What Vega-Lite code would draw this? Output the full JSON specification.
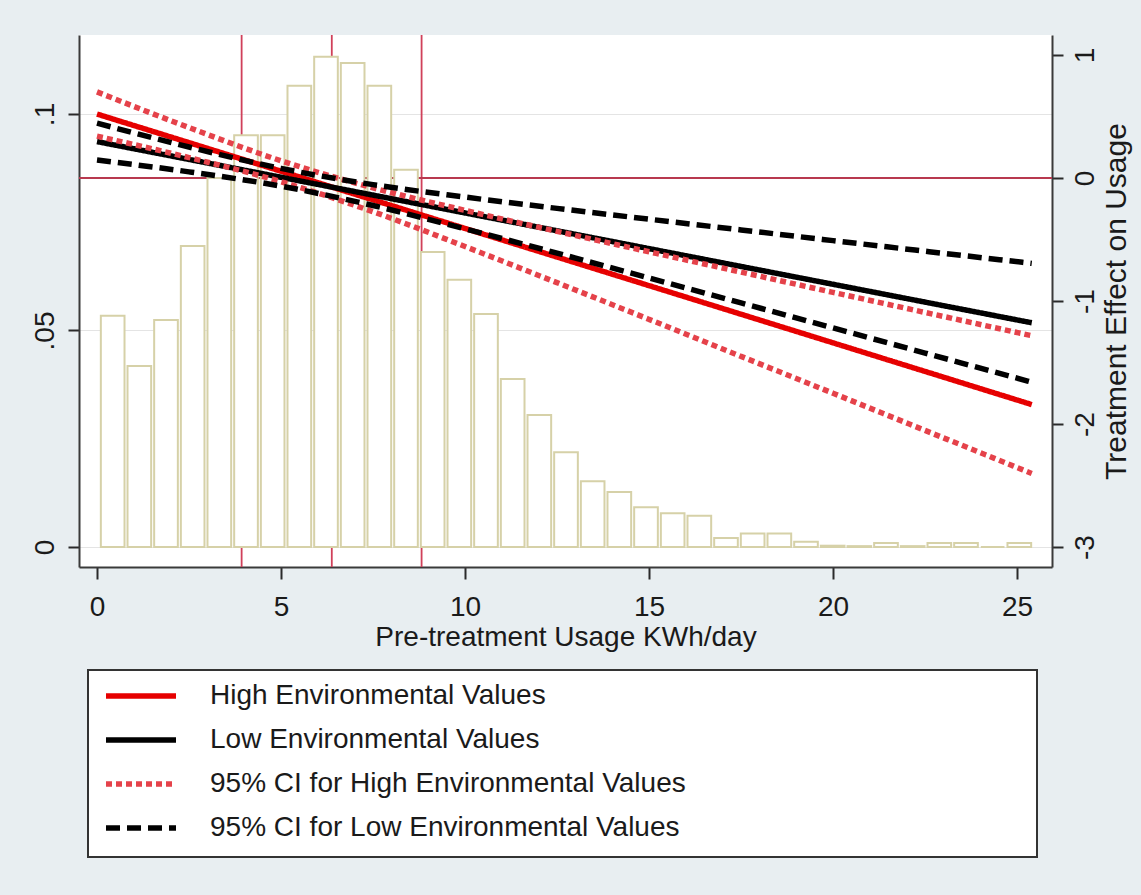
{
  "$schema": "https://vega.github.io/schema/vega-lite/v6.json",
  "autosize": {"type": "none"},
  "width": 973,
  "height": 532,
  "padding": {"left": 79, "top": 35, "right": 89, "bottom": 328},
  "background": "#e8eef1",
  "config": {
    "view": {"fill": "white", "stroke": null},
    "font": "Liberation Sans",
    "axis": {
      "labelFont": "Liberation Sans",
      "titleFont": "Liberation Sans",
      "labelColor": "#1a1a1a",
      "titleColor": "#1a1a1a",
      "domainColor": "#3a3a3a",
      "domainWidth": 2,
      "tickColor": "#2a2a2a",
      "tickWidth": 2,
      "titleFontWeight": "normal",
      "labelFontSize": 28,
      "titleFontSize": 28
    },
    "legend": {
      "orient": "none",
      "legendX": 9,
      "legendY": 635,
      "symbolType": "stroke",
      "symbolSize": 4900,
      "clipHeight": 22,
      "rowPadding": 16,
      "padding": 15,
      "strokeColor": "#333333",
      "strokeWidth": 2,
      "fillColor": "white",
      "labelFont": "Liberation Sans",
      "labelFontSize": 28,
      "labelColor": "#1a1a1a",
      "labelOffset": 31,
      "labelLimit": 3000
    }
  },
  "datasets": {
    "vlines": [{"x": 3.93}, {"x": 6.38}, {"x": 8.82}],
    "hline": [{"v": 0}],
    "hist": [
      {"bin_start": 0.050, "bin_end": 0.775, "density": 0.0534},
      {"bin_start": 0.775, "bin_end": 1.499, "density": 0.0418},
      {"bin_start": 1.499, "bin_end": 2.224, "density": 0.0524},
      {"bin_start": 2.224, "bin_end": 2.948, "density": 0.0695},
      {"bin_start": 2.948, "bin_end": 3.673, "density": 0.0852},
      {"bin_start": 3.673, "bin_end": 4.398, "density": 0.0951},
      {"bin_start": 4.398, "bin_end": 5.122, "density": 0.0951},
      {"bin_start": 5.122, "bin_end": 5.847, "density": 0.1065},
      {"bin_start": 5.847, "bin_end": 6.571, "density": 0.1132},
      {"bin_start": 6.571, "bin_end": 7.296, "density": 0.1118},
      {"bin_start": 7.296, "bin_end": 8.021, "density": 0.1065},
      {"bin_start": 8.021, "bin_end": 8.745, "density": 0.0871},
      {"bin_start": 8.745, "bin_end": 9.470, "density": 0.0681},
      {"bin_start": 9.470, "bin_end": 10.194, "density": 0.0617},
      {"bin_start": 10.194, "bin_end": 10.919, "density": 0.0538},
      {"bin_start": 10.919, "bin_end": 11.644, "density": 0.0388},
      {"bin_start": 11.644, "bin_end": 12.368, "density": 0.0305},
      {"bin_start": 12.368, "bin_end": 13.093, "density": 0.0219},
      {"bin_start": 13.093, "bin_end": 13.817, "density": 0.0152},
      {"bin_start": 13.817, "bin_end": 14.542, "density": 0.0127},
      {"bin_start": 14.542, "bin_end": 15.267, "density": 0.0092},
      {"bin_start": 15.267, "bin_end": 15.991, "density": 0.0078},
      {"bin_start": 15.991, "bin_end": 16.716, "density": 0.0072},
      {"bin_start": 16.716, "bin_end": 17.440, "density": 0.0021},
      {"bin_start": 17.440, "bin_end": 18.165, "density": 0.0031},
      {"bin_start": 18.165, "bin_end": 18.890, "density": 0.0031},
      {"bin_start": 18.890, "bin_end": 19.614, "density": 0.0012},
      {"bin_start": 19.614, "bin_end": 20.339, "density": 0.0003},
      {"bin_start": 20.339, "bin_end": 21.063, "density": 0.0002},
      {"bin_start": 21.063, "bin_end": 21.788, "density": 0.0009},
      {"bin_start": 21.788, "bin_end": 22.513, "density": 0.0002},
      {"bin_start": 22.513, "bin_end": 23.237, "density": 0.0009},
      {"bin_start": 23.237, "bin_end": 23.962, "density": 0.0009},
      {"bin_start": 23.962, "bin_end": 24.686, "density": 0.0},
      {"bin_start": 24.686, "bin_end": 25.411, "density": 0.0009}
    ],
    "curves": [
      {"series": "High Environmental Values", "curve": "high", "x": 0, "v": 0.52},
      {"series": "High Environmental Values", "curve": "high", "x": 5, "v": 0.055},
      {"series": "High Environmental Values", "curve": "high", "x": 10, "v": -0.41},
      {"series": "High Environmental Values", "curve": "high", "x": 15, "v": -0.875},
      {"series": "High Environmental Values", "curve": "high", "x": 20, "v": -1.34},
      {"series": "High Environmental Values", "curve": "high", "x": 25.4, "v": -1.842},
      {"series": "Low Environmental Values", "curve": "low", "x": 0, "v": 0.296},
      {"series": "Low Environmental Values", "curve": "low", "x": 5, "v": 0.006},
      {"series": "Low Environmental Values", "curve": "low", "x": 10, "v": -0.284},
      {"series": "Low Environmental Values", "curve": "low", "x": 15, "v": -0.574},
      {"series": "Low Environmental Values", "curve": "low", "x": 20, "v": -0.864},
      {"series": "Low Environmental Values", "curve": "low", "x": 25.4, "v": -1.177},
      {"series": "95% CI for High Environmental Values", "curve": "hi_u", "x": 0, "v": 0.70},
      {"series": "95% CI for High Environmental Values", "curve": "hi_u", "x": 2.5, "v": 0.41},
      {"series": "95% CI for High Environmental Values", "curve": "hi_u", "x": 5, "v": 0.14},
      {"series": "95% CI for High Environmental Values", "curve": "hi_u", "x": 7.5, "v": -0.08},
      {"series": "95% CI for High Environmental Values", "curve": "hi_u", "x": 10, "v": -0.263},
      {"series": "95% CI for High Environmental Values", "curve": "hi_u", "x": 12.5, "v": -0.434},
      {"series": "95% CI for High Environmental Values", "curve": "hi_u", "x": 15, "v": -0.60},
      {"series": "95% CI for High Environmental Values", "curve": "hi_u", "x": 17.5, "v": -0.765},
      {"series": "95% CI for High Environmental Values", "curve": "hi_u", "x": 20, "v": -0.93},
      {"series": "95% CI for High Environmental Values", "curve": "hi_u", "x": 22.5, "v": -1.093},
      {"series": "95% CI for High Environmental Values", "curve": "hi_u", "x": 25.4, "v": -1.282},
      {"series": "95% CI for High Environmental Values", "curve": "hi_l", "x": 0, "v": 0.34},
      {"series": "95% CI for High Environmental Values", "curve": "hi_l", "x": 2.5, "v": 0.166},
      {"series": "95% CI for High Environmental Values", "curve": "hi_l", "x": 5, "v": -0.03},
      {"series": "95% CI for High Environmental Values", "curve": "hi_l", "x": 7.5, "v": -0.274},
      {"series": "95% CI for High Environmental Values", "curve": "hi_l", "x": 10, "v": -0.557},
      {"series": "95% CI for High Environmental Values", "curve": "hi_l", "x": 12.5, "v": -0.851},
      {"series": "95% CI for High Environmental Values", "curve": "hi_l", "x": 15, "v": -1.149},
      {"series": "95% CI for High Environmental Values", "curve": "hi_l", "x": 17.5, "v": -1.45},
      {"series": "95% CI for High Environmental Values", "curve": "hi_l", "x": 20, "v": -1.75},
      {"series": "95% CI for High Environmental Values", "curve": "hi_l", "x": 22.5, "v": -2.052},
      {"series": "95% CI for High Environmental Values", "curve": "hi_l", "x": 25.4, "v": -2.402},
      {"series": "95% CI for Low Environmental Values", "curve": "lo_u", "x": 0, "v": 0.446},
      {"series": "95% CI for Low Environmental Values", "curve": "lo_u", "x": 2.5, "v": 0.252},
      {"series": "95% CI for Low Environmental Values", "curve": "lo_u", "x": 5, "v": 0.078},
      {"series": "95% CI for Low Environmental Values", "curve": "lo_u", "x": 7.5, "v": -0.054},
      {"series": "95% CI for Low Environmental Values", "curve": "lo_u", "x": 10, "v": -0.155},
      {"series": "95% CI for Low Environmental Values", "curve": "lo_u", "x": 12.5, "v": -0.247},
      {"series": "95% CI for Low Environmental Values", "curve": "lo_u", "x": 15, "v": -0.335},
      {"series": "95% CI for Low Environmental Values", "curve": "lo_u", "x": 17.5, "v": -0.422},
      {"series": "95% CI for Low Environmental Values", "curve": "lo_u", "x": 20, "v": -0.509},
      {"series": "95% CI for Low Environmental Values", "curve": "lo_u", "x": 22.5, "v": -0.595},
      {"series": "95% CI for Low Environmental Values", "curve": "lo_u", "x": 25.4, "v": -0.694},
      {"series": "95% CI for Low Environmental Values", "curve": "lo_l", "x": 0, "v": 0.146},
      {"series": "95% CI for Low Environmental Values", "curve": "lo_l", "x": 2.5, "v": 0.05},
      {"series": "95% CI for Low Environmental Values", "curve": "lo_l", "x": 5, "v": -0.066},
      {"series": "95% CI for Low Environmental Values", "curve": "lo_l", "x": 7.5, "v": -0.224},
      {"series": "95% CI for Low Environmental Values", "curve": "lo_l", "x": 10, "v": -0.413},
      {"series": "95% CI for Low Environmental Values", "curve": "lo_l", "x": 12.5, "v": -0.611},
      {"series": "95% CI for Low Environmental Values", "curve": "lo_l", "x": 15, "v": -0.813},
      {"series": "95% CI for Low Environmental Values", "curve": "lo_l", "x": 17.5, "v": -1.016},
      {"series": "95% CI for Low Environmental Values", "curve": "lo_l", "x": 20, "v": -1.219},
      {"series": "95% CI for Low Environmental Values", "curve": "lo_l", "x": 22.5, "v": -1.423},
      {"series": "95% CI for Low Environmental Values", "curve": "lo_l", "x": 25.4, "v": -1.66}
    ]
  },
  "layer": [
    {
      "layer": [
        {
          "data": {"name": "vlines"},
          "mark": {"type": "rule", "color": "#d0405a", "strokeWidth": 1.8},
          "encoding": {
            "x": {"field": "x", "type": "quantitative", "scale": {"domain": [-0.489, 25.95], "nice": false, "zero": false},
              "axis": {"values": [0, 5, 10, 15, 20, 25], "title": "Pre-treatment Usage KWh/day", "grid": false, "tickSize": 12, "labelPadding": 14, "titlePadding": 2, "labelFlush": false, "labelOverlap": false}}
          }
        },
        {
          "data": {"name": "hline"},
          "mark": {"type": "rule", "color": "#b8394f", "strokeWidth": 2},
          "encoding": {
            "y": {"field": "v", "type": "quantitative", "scale": {"domain": [-3.1626, 1.1626], "nice": false, "zero": false}, "axis": null}
          }
        }
      ]
    },
    {
      "data": {"name": "hist"},
      "mark": {"type": "bar", "fill": "white", "stroke": "#d6d1a8", "strokeWidth": 2, "binSpacing": 3},
      "encoding": {
        "x": {
          "field": "bin_start", "type": "quantitative", "bin": "binned",
          "scale": {"domain": [-0.489, 25.95], "nice": false, "zero": false},
          "axis": {"values": [0, 5, 10, 15, 20, 25], "title": "Pre-treatment Usage KWh/day", "grid": false, "tickSize": 12, "labelPadding": 14, "titlePadding": 2, "labelFlush": false, "labelOverlap": false}
        },
        "x2": {"field": "bin_end"},
        "y": {
          "field": "density", "type": "quantitative",
          "scale": {"domain": [-0.00462, 0.11824], "nice": false, "zero": false},
          "axis": {"orient": "left", "values": [0, 0.05, 0.1], "title": null, "grid": true, "gridColor": "#e4e4e4", "gridWidth": 1.2, "tickSize": 11, "labelAngle": -90, "labelAlign": "center", "labelBaseline": "bottom", "labelPadding": 9, "labelExpr": "datum.value == 0 ? '0' : replace(format(datum.value, '.2~f'), '0.', '.')"}
        },
        "y2": {"datum": 0}
      }
    },
    {
      "data": {"name": "curves"},
      "mark": {"type": "line", "strokeCap": "butt", "interpolate": "monotone"},
      "encoding": {
        "x": {"field": "x", "type": "quantitative", "scale": {"domain": [-0.489, 25.95], "nice": false, "zero": false},
          "axis": {"values": [0, 5, 10, 15, 20, 25], "title": "Pre-treatment Usage KWh/day", "grid": false, "tickSize": 12, "labelPadding": 14, "titlePadding": 2, "labelFlush": false, "labelOverlap": false}},
        "y": {
          "field": "v", "type": "quantitative",
          "scale": {"domain": [-3.1626, 1.1626], "nice": false, "zero": false},
          "axis": {"orient": "right", "values": [-3, -2, -1, 0, 1], "title": "Treatment Effect on Usage", "grid": false, "tickSize": 11, "labelAngle": -90, "labelAlign": "center", "labelBaseline": "top", "labelPadding": 8, "labelExpr": "'' + datum.value", "titleAngle": -90, "titleBaseline": "top", "titlePadding": 2, "titleFontSize": 30}
        },
        "color": {
          "field": "series", "type": "nominal",
          "scale": {"domain": ["High Environmental Values", "Low Environmental Values", "95% CI for High Environmental Values", "95% CI for Low Environmental Values"], "range": ["#e60000", "#000000", "#e5424a", "#000000"]},
          "legend": {"title": null, "labelExpr": "datum.label + '\u2800\u2800\u2800\u2800\u2800\u2800\u2800\u2800\u2800\u2800\u2800\u2800\u2800\u2800\u2800\u2800'"}
        },
        "strokeDash": {
          "field": "series", "type": "nominal",
          "scale": {"domain": ["High Environmental Values", "Low Environmental Values", "95% CI for High Environmental Values", "95% CI for Low Environmental Values"], "range": [[1, 0], [1, 0], [6, 4], [14, 7]]}
        },
        "strokeWidth": {
          "field": "series", "type": "nominal",
          "scale": {"domain": ["High Environmental Values", "Low Environmental Values", "95% CI for High Environmental Values", "95% CI for Low Environmental Values"], "range": [5.5, 5.5, 1.6, 2.2]}
        },
        "detail": {"field": "curve", "type": "nominal"}
      }
    }
  ],
  "resolve": {"scale": {"y": "independent"}, "axis": {"y": "independent"}}
}
